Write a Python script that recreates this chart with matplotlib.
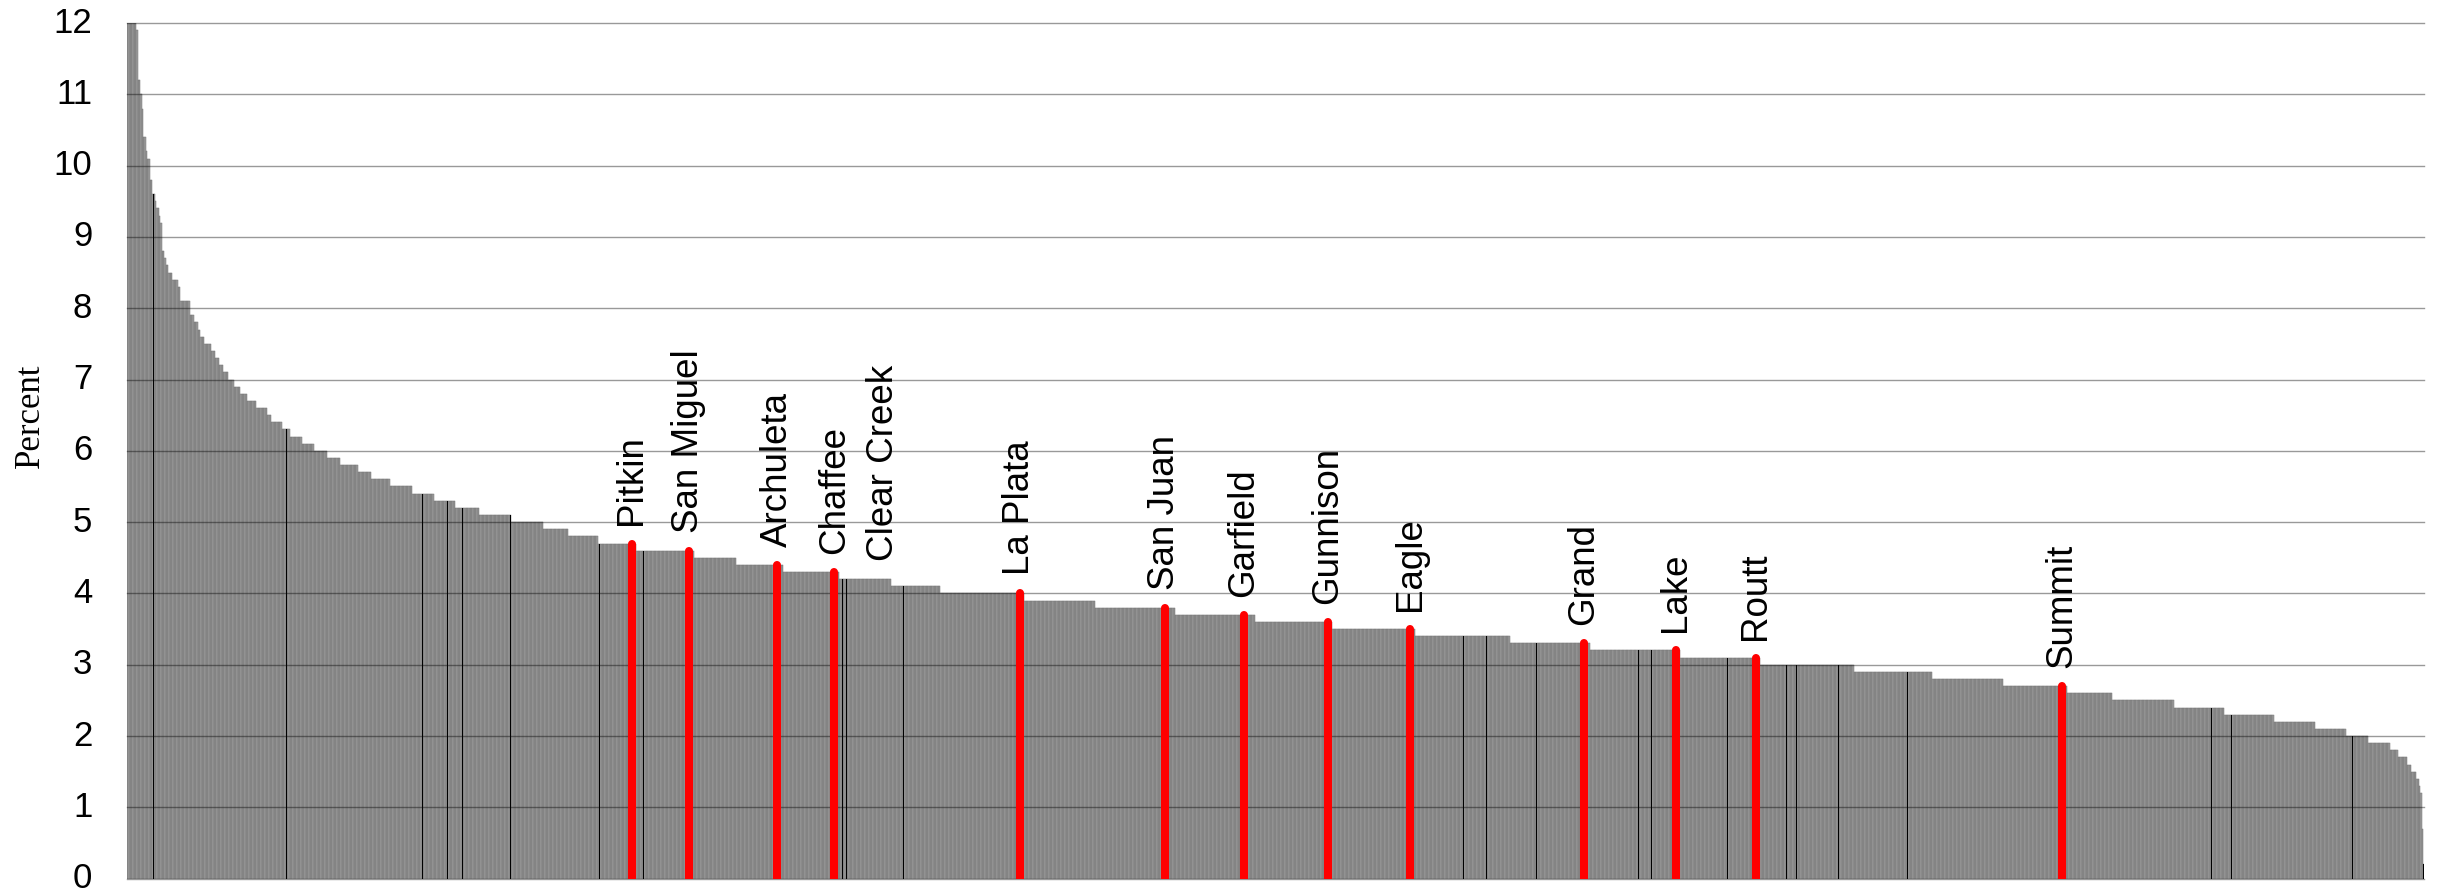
import numpy as np
import matplotlib.pyplot as plt

# sorted county values, run-length encoded: level (percent) and number of bars at that level
levels = [12.0, 11.9, 11.2, 11.0, 10.8, 10.4, 10.2, 10.1, 9.8, 9.6, 9.5, 9.4, 9.3, 9.2,
          8.8, 8.7, 8.6, 8.5, 8.4, 8.3, 8.1,
          7.9, 7.8, 7.7, 7.6, 7.5, 7.4, 7.3, 7.2, 7.1, 7.0,
          6.9, 6.8, 6.7, 6.6, 6.5, 6.4, 6.3, 6.2, 6.1, 6.0,
          5.9, 5.8, 5.7, 5.6, 5.5, 5.4, 5.3, 5.2, 5.1, 5.0,
          4.9, 4.8, 4.7, 4.6, 4.5, 4.4, 4.3, 4.2, 4.1, 4.0,
          3.9, 3.8, 3.7, 3.6, 3.5, 3.4, 3.3, 3.2, 3.1, 3.0,
          2.9, 2.8, 2.7, 2.6, 2.5, 2.4, 2.3, 2.2, 2.1, 2.0,
          1.9, 1.8, 1.7, 1.6, 1.5, 1.4, 1.3, 1.2, 0.7, 0.2]
counts = [7, 1, 2, 1, 1, 2, 1, 2, 2, 2, 1, 2, 1, 1,
          2, 1, 2, 3, 4, 2, 7,
          3, 3, 2, 3, 5, 3, 3, 3, 4, 4,
          5, 5, 7, 8, 3, 8, 6, 9, 9, 10,
          10, 13, 10, 14, 17, 16, 16, 18, 24, 24,
          19, 22, 29, 43, 32, 35, 42, 39, 37, 63,
          53, 60, 60, 58, 62, 71, 60, 68, 60, 70,
          59, 53, 48, 34, 46, 38, 37, 31, 23, 17,
          16, 6, 7, 3, 4, 2, 1, 1, 1, 1]

# Colorado counties (position in the sorted list)
co_names = ["Pitkin", "San Miguel", "Archuleta", "Chaffee", "Clear Creek", "La Plata",
            "San Juan", "Garfield", "Gunnison", "Eagle", "Grand", "Lake", "Routt", "Summit"]
co_rank = [378, 421, 487, 530, 567, 669, 778, 837, 900, 962, 1092, 1161, 1221, 1451]
co_marked = [True, True, True, True, False, True, True, True, True, True, True, True, True, True]

# other bars drawn in black
black_rank = [19, 94, 119, 221, 240, 251, 287, 354, 387, 536, 539, 582, 616, 1002, 1019,
              1057, 1133, 1143, 1200, 1244, 1252, 1283, 1335, 1563, 1578, 1669, 1722]

vals = np.repeat(levels, counts)
x = np.arange(len(vals))

fig = plt.figure(figsize=(24.43, 8.93), dpi=100)
ax = fig.add_axes([0.052, 0.0161, 0.9403, 0.9581])

ax.bar(x, vals, width=1.0, color="#9b9b9b", edgecolor="#767676", linewidth=0.35, zorder=1)
xb = np.array(black_rank)
ax.bar(xb, vals[xb], width=0.7, color="black", linewidth=0, zorder=1.5)

for y in range(13):
    ax.axhline(y, color="black", alpha=0.4, lw=1.0, zorder=2, clip_on=False)

mx = np.array([r for r, m in zip(co_rank, co_marked) if m])
ax.vlines(mx, 0, vals[mx], color="#ff0000", lw=5.8, capstyle="round", zorder=3)

for name, r in zip(co_names, co_rank):
    ax.annotate(name, (r, vals[r]), xytext=(0, 13), textcoords="offset points",
                rotation=90, ha="center", va="bottom", fontsize=26.5,
                family="Liberation Sans", zorder=4)

ax.set_xlim(-0.5, len(vals) - 0.5)
ax.set_ylim(0, 12)
ax.set_yticks(range(13))
ax.set_xticks([])
ax.tick_params(axis="y", length=0, pad=25, labelsize=25)
for lab in ax.get_yticklabels():
    lab.set_family("Liberation Sans")
    lab.set_verticalalignment("center")
for s in ax.spines.values():
    s.set_visible(False)

fig.text(0.0123, 0.534, "Percent", rotation=90, ha="center", va="center",
         fontsize=25, family="Liberation Serif")

fig.savefig("out.png", dpi=100)
